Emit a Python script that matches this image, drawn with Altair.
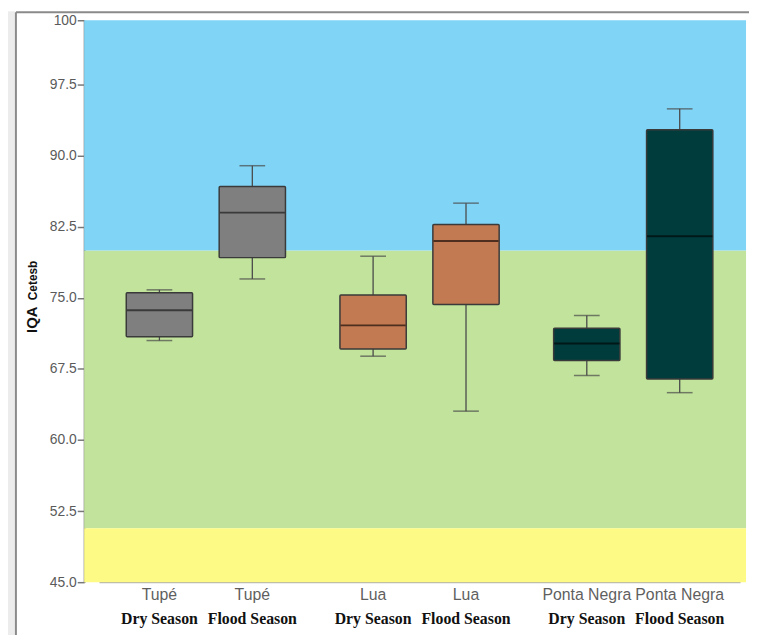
import altair as alt
import pandas as pd

# ---- data ----
sites = ["Tupé", "Tupé", "Lua", "Lua", "Ponta Negra", "Ponta Negra"]
seasons = ["Dry Season", "Flood Season", "Dry Season", "Flood Season", "Dry Season", "Flood Season"]
whisker_low = [70.5, 77.0, 68.85, 63.05, 66.8, 65.0]
q1 = [70.9, 79.25, 69.6, 74.3, 68.4, 66.45]
median = [73.7, 84.0, 72.1, 81.0, 70.2, 81.5]
q3 = [75.55, 86.75, 75.3, 82.75, 71.8, 92.75]
whisker_high = [75.85, 88.95, 79.4, 85.0, 73.15, 94.95]

site_order = ["Tupé", "Lua", "Ponta Negra"]
season_order = ["Dry Season", "Flood Season"]
site_colors = ["#7f7f7f", "#c17a52", "#003c3c"]
median_colors = ["#3a3a3a", "#4e2e1e", "#001818"]

band_low = [50.7, 80.0, 45.0]
band_high = [80.0, 104.3, 50.7]
band_colors = ["#c1e39b", "#80d5f7", "#fdfa85"]

y_ticks = [45.0, 52.5, 60.0, 67.5, 75.0, 82.5, 90.0, 97.5, 104.3]
y_min, y_max = 45.0, 104.3

W, H = 669, 568

df = pd.DataFrame({
    "site": sites, "season": seasons, "lo": whisker_low, "q1": q1,
    "med": median, "q3": q3, "hi": whisker_high,
})
bands = pd.DataFrame({"lo": band_low, "hi": band_high, "c": band_colors})
one = pd.DataFrame({"a": [0]})

yscale = alt.Scale(domain=[y_min, y_max], nice=False, zero=False)
xscale = alt.Scale(domain=site_order, range=[15, 663], paddingInner=0, paddingOuter=0)
xoff = alt.XOffset("season:N", sort=season_order,
                   scale=alt.Scale(paddingInner=0, paddingOuter=0.15))
x_enc = alt.X("site:N", sort=site_order, scale=xscale,
              axis=alt.Axis(title=None, labels=False, ticks=False,
                            domainColor="#9a9a9a", domainWidth=1))
color = alt.Color("site:N", scale=alt.Scale(domain=site_order, range=site_colors), legend=None)

bg = alt.Chart(bands).mark_rect().encode(
    x=alt.value(0), x2=alt.value(W),
    y=alt.Y("lo:Q", scale=yscale,
            axis=alt.Axis(title=None, values=y_ticks,
                          labelExpr="datum.value > 100 ? '100' : format(datum.value, '.1f')",
                          labelColor="#5a5a5a", labelFont="Liberation Sans", labelFontSize=14,
                          tickColor="#777777", tickSize=7, tickWidth=1.5,
                          domainColor="#808080", domainWidth=2,
                          grid=False, labelPadding=1)),
    y2="hi:Q",
    fill=alt.Fill("c:N", scale=None),
)

base = alt.Chart(df)
whisk = base.mark_rule(color="#4a4a4a", strokeWidth=1.3).encode(
    x=x_enc, xOffset=xoff, y=alt.Y("lo:Q", scale=yscale), y2="hi:Q")
cap_lo = base.mark_tick(color="#4a4a4a", size=26, thickness=1.5).encode(
    x=x_enc, xOffset=xoff, y=alt.Y("lo:Q", scale=yscale))
cap_hi = base.mark_tick(color="#4a4a4a", size=26, thickness=1.5).encode(
    x=x_enc, xOffset=xoff, y=alt.Y("hi:Q", scale=yscale))
box = base.mark_bar(size=67, stroke="#3a3a3a", strokeWidth=1.5, cornerRadius=1).encode(
    x=x_enc, xOffset=xoff, y=alt.Y("q1:Q", scale=yscale), y2="q3:Q", color=color)
med = base.mark_tick(size=66, thickness=2, opacity=1).encode(
    x=x_enc, xOffset=xoff, y=alt.Y("med:Q", scale=yscale),
    color=alt.Color("site:N", scale=alt.Scale(domain=site_order, range=median_colors), legend=None))

lab_site = base.mark_text(font="Liberation Sans", fontSize=16, color="#5f5f5f",
                          baseline="middle").encode(
    x=x_enc, xOffset=xoff, y=alt.value(H + 13), text="site:N")
lab_season = base.mark_text(font="Liberation Serif", fontSize=16, fontWeight="bold",
                            color="#111111", baseline="middle").encode(
    x=x_enc, xOffset=xoff, y=alt.value(H + 37), text="season:N")

t_iqa = alt.Chart(one).mark_text(text="IQA", font="Liberation Sans", fontSize=15,
                                 fontWeight="bold", angle=270, align="left",
                                 baseline="alphabetic", color="#111111").encode(
    x=alt.value(-48), y=alt.value(316))
t_cet = alt.Chart(one).mark_text(text="Cetesb", font="Liberation Sans", fontSize=12,
                                 fontWeight="bold", angle=270, align="left",
                                 baseline="alphabetic", color="#111111").encode(
    x=alt.value(-48), y=alt.value(283))

frame_strip = alt.Chart(one).mark_rect(color="#ececec").encode(
    x=alt.value(-77), x2=alt.value(-70), y=alt.value(-9), y2=alt.value(640))
frame_top = alt.Chart(one).mark_rule(color="#8a8a8a", strokeWidth=2).encode(
    x=alt.value(-69), x2=alt.value(675), y=alt.value(-8))
frame_left = alt.Chart(one).mark_rule(color="#8a8a8a", strokeWidth=2).encode(
    x=alt.value(-69), y=alt.value(-8), y2=alt.value(640))

chart = alt.layer(
    bg, whisk, cap_lo, cap_hi, box, med, lab_site, lab_season,
    t_iqa, t_cet, frame_strip, frame_top, frame_left
).resolve_scale(color="independent").properties(
    width=W, height=H,
    autosize=alt.AutoSizeParams(type="none"),
    padding={"left": 77, "top": 9, "right": 3, "bottom": 50},
).configure_view(stroke=None)

chart.save("out.html", embed_options={"renderer": "svg", "actions": False})
